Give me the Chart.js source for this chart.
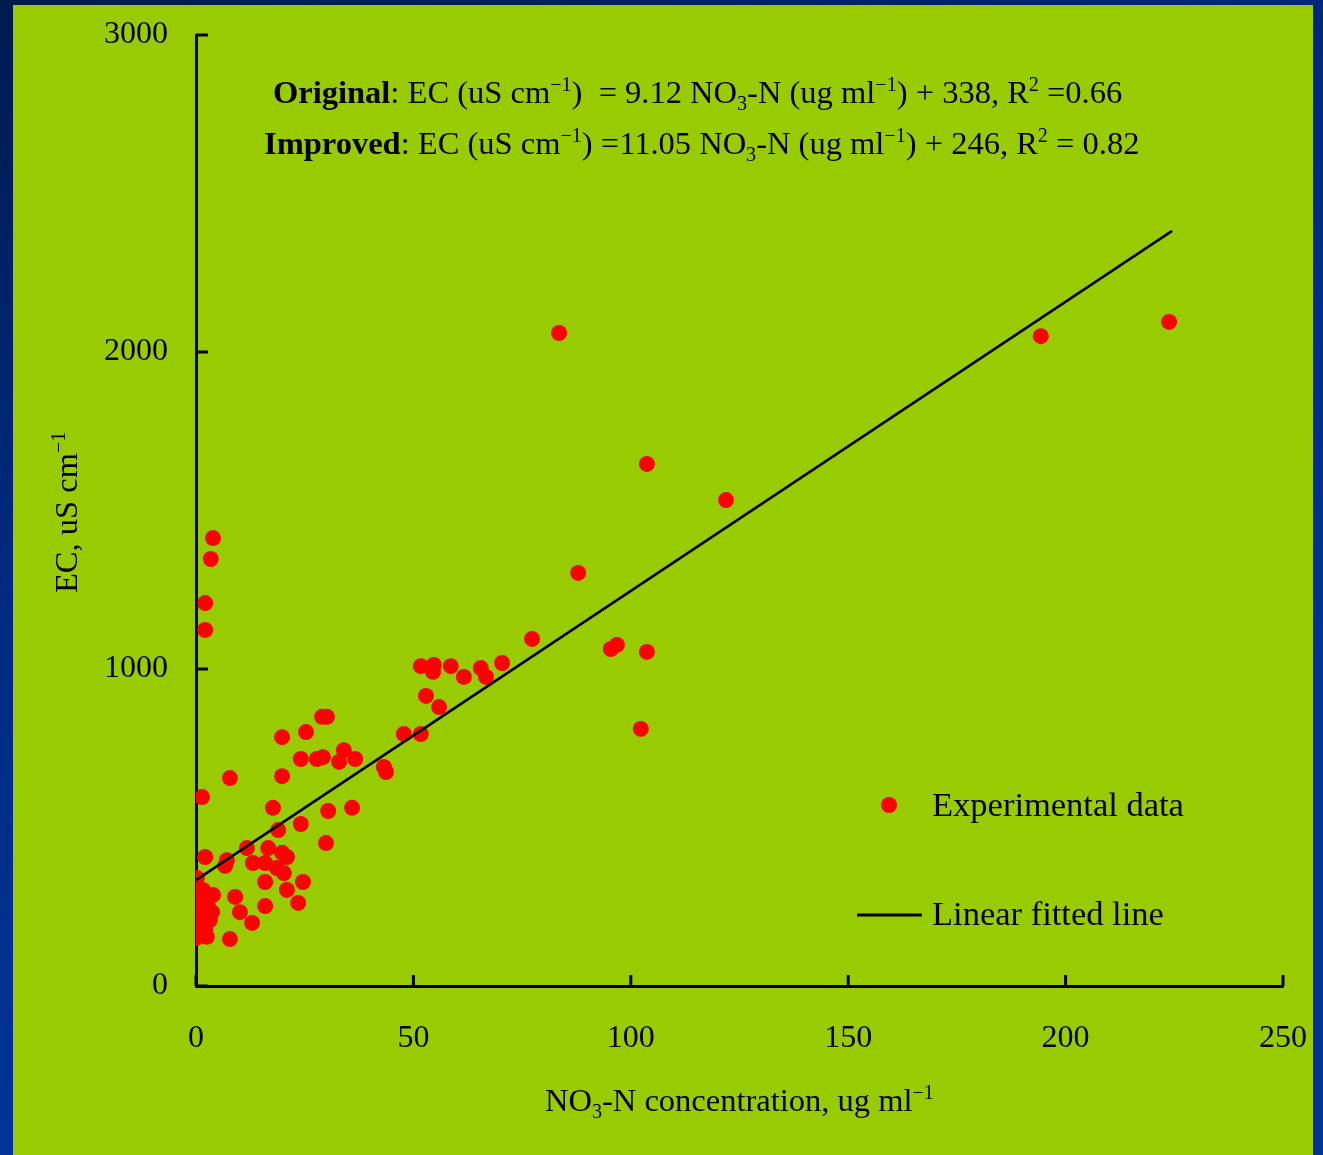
<!DOCTYPE html>
<html>
<head>
<meta charset="utf-8">
<script src="https://cdn.jsdelivr.net/npm/chart.js@4.4.1/dist/chart.umd.min.js"></script>
<style>
  html, body { margin: 0; padding: 0; }
  body {
    width: 1323px; height: 1155px; overflow: hidden;
    background: linear-gradient(160deg, #001a4d 0%, #002a80 35%, #003399 70%);
    position: relative;
  }
  #panel {
    position: absolute; left: 13px; top: 5px;
    width: 1300px; height: 1150px; background: #99cc00;
  }
</style>
</head>
<body>
<div id="panel"><canvas id="myChart" width="1300" height="1150"></canvas></div>
<script>
document.addEventListener("DOMContentLoaded", function () {

    // NO3-N (ug/ml) and EC (uS/cm)
    const no3 = [3.9, 1.6, 0.5, 2.8, 0.0, 3.7, 0.9, 3.2, 0.2, 2.1, 0.0, 2.5,
        2.1, 7.1, 6.7, 11.7, 16.6, 13.1, 15.9, 19.8, 20.9, 18.6, 20.2, 0.2, 15.9, 24.6,
        20.9, 9.0, 23.5, 15.9, 10.1, 12.9, 7.8,
        29.0, 30.1, 19.8, 25.3, 24.1, 27.8, 29.2, 34.0, 32.9, 36.6, 7.8, 19.8, 43.2, 43.7,
        17.7, 30.4, 35.9, 18.9, 24.1, 29.9, 1.4,
        3.4, 3.9, 2.1, 2.1,
        51.7, 54.7, 54.5, 58.6, 61.6, 65.5, 66.7, 70.4, 52.9, 55.9, 47.8, 51.7,
        83.5, 223.8, 194.3, 103.7, 121.9, 87.9, 77.3, 95.4, 96.8, 103.7, 102.3];
    const ec = [287, 303, 271, 249, 230, 233, 208, 208, 186, 177, 151, 155,
        407, 397, 379, 435, 435, 388, 388, 420, 407, 372, 356, 341, 328, 328,
        303, 281, 262, 252, 233, 199, 148,
        849, 849, 785, 801, 716, 716, 722, 744, 707, 716, 656, 662, 691, 675,
        562, 552, 562, 492, 511, 451, 596,
        1347, 1413, 1208, 1123,
        1009, 1013, 991, 1009, 975, 1003, 975, 1019, 915, 880, 795, 795,
        2060, 2095, 2050, 1647, 1533, 1303, 1095, 1063, 1076, 1054, 811];

    // end points of the fitted line
    const fitX = [0, 224.5];
    const fitY = [334, 2382];

    const xTicks = [0, 50, 100, 150, 200, 250];
    const yTicks = [0, 1000, 2000, 3000];

    const serif = "'Liberation Serif', 'Times New Roman', serif";

    function drawRich(ctx, parts, x, y, size) {
        let cx = x;
        parts.forEach(function (p) {
            let fs = size, dy = 0;
            if (p.v === 'sup') { fs = size * 0.62; dy = -size * 0.38; }
            if (p.v === 'sub') { fs = size * 0.62; dy = size * 0.2; }
            ctx.font = (p.b ? 'bold ' : '') + fs + 'px ' + serif;
            ctx.fillText(p.t, cx, y + dy);
            cx += ctx.measureText(p.t).width;
        });
    }

    const eq1 = [{t: 'Original', b: true}, {t: ': EC (uS cm'}, {t: '\u22121', v: 'sup'},
        {t: ')  = 9.12 NO'}, {t: '3', v: 'sub'}, {t: '-N (ug ml'}, {t: '\u22121', v: 'sup'},
        {t: ') + 338, R'}, {t: '2', v: 'sup'}, {t: ' =0.66'}];
    const eq2 = [{t: 'Improved', b: true}, {t: ': EC (uS cm'}, {t: '\u22121', v: 'sup'},
        {t: ') =11.05 NO'}, {t: '3', v: 'sub'}, {t: '-N (ug ml'}, {t: '\u22121', v: 'sup'},
        {t: ') + 246, R'}, {t: '2', v: 'sup'}, {t: ' = 0.82'}];
    const xTitle = [{t: 'NO'}, {t: '3', v: 'sub'}, {t: '-N concentration, ug ml'}, {t: '\u22121', v: 'sup'}];
    const yTitle = [{t: 'EC, uS cm'}, {t: '\u22121', v: 'sup'}];

    const decor = {
        id: 'decor',
        afterDraw: function (chart) {
            const ctx = chart.ctx;
            const a = chart.chartArea;
            const xs = chart.scales.x, ys = chart.scales.y;
            ctx.save();
            // inward tick marks
            ctx.strokeStyle = '#000';
            ctx.lineWidth = 3;
            ctx.beginPath();
            yTicks.forEach(function (v) {
                const py = ys.getPixelForValue(v);
                ctx.moveTo(a.left, py); ctx.lineTo(a.left + 12, py);
            });
            xTicks.forEach(function (v) {
                const px = xs.getPixelForValue(v);
                ctx.moveTo(px, a.bottom); ctx.lineTo(px, a.bottom - 11);
            });
            ctx.stroke();

            ctx.fillStyle = '#000';
            ctx.textBaseline = 'alphabetic';
            ctx.textAlign = 'left';
            drawRich(ctx, eq1, 260, 98, 32.5);
            drawRich(ctx, eq2, 251, 149, 32.5);
            drawRich(ctx, xTitle, 532, 1106, 32.5);

            ctx.save();
            ctx.translate(64, 588);
            ctx.rotate(-Math.PI / 2);
            drawRich(ctx, yTitle, 0, 0, 32.5);
            ctx.restore();

            // legend
            const ds = chart.data.datasets;
            ctx.fillStyle = ds[1].backgroundColor;
            ctx.beginPath();
            ctx.arc(876, 800, 8, 0, Math.PI * 2);
            ctx.fill();
            ctx.strokeStyle = ds[0].borderColor;
            ctx.lineWidth = 3;
            ctx.beginPath();
            ctx.moveTo(844, 910); ctx.lineTo(909, 910);
            ctx.stroke();
            ctx.fillStyle = '#000';
            ctx.font = '34.5px ' + serif;
            ctx.fillText(ds[1].label, 919, 811);
            ctx.fillText(ds[0].label, 919, 920);
            ctx.restore();
        }
    };

    const tickFont = { family: serif, size: 32 };
    const plain = function (v) { return String(v); };

    const config = {
        type: 'scatter',
        data: {
            datasets: [{
                type: 'line',
                label: 'Linear fitted line',
                data: fitX.map(function (x, i) { return {x: x, y: fitY[i]}; }),
                borderColor: '#000',
                borderWidth: 2.5,
                pointRadius: 0,
                fill: false,
                order: 0
            }, {
                label: 'Experimental data',
                data: no3.map(function (x, i) { return {x: x, y: ec[i]}; }),
                backgroundColor: '#ff0000',
                borderWidth: 0,
                pointRadius: 8,
                order: 1
            }]
        },
        options: {
            responsive: false,
            animation: false,
            layout: { padding: { top: 30, right: 30, left: 0, bottom: 0 } },
            plugins: {
                legend: { display: false },
                tooltip: { enabled: false }
            },
            scales: {
                x: {
                    type: 'linear',
                    min: 0, max: 250,
                    afterBuildTicks: function (s) { s.ticks = xTicks.map(function (v) { return {value: v}; }); },
                    afterFit: function (s) { s.height = 169; s.paddingLeft = 0; s.paddingRight = 0; },
                    ticks: { color: '#000', font: tickFont, padding: 25, maxRotation: 0, callback: plain },
                    grid: { display: false },
                    border: { color: '#000', width: 3 }
                },
                y: {
                    min: 0, max: 3000,
                    afterBuildTicks: function (s) { s.ticks = yTicks.map(function (v) { return {value: v}; }); },
                    afterFit: function (s) { s.width = 183; s.paddingTop = 0; s.paddingBottom = 0; },
                    ticks: { color: '#000', font: tickFont, padding: 20, callback: plain },
                    grid: { display: false },
                    border: { color: '#000', width: 3 }
                }
            }
        },
        plugins: [decor]
    };

    new Chart(document.getElementById('myChart'), config);
});
</script>
</body>
</html>
